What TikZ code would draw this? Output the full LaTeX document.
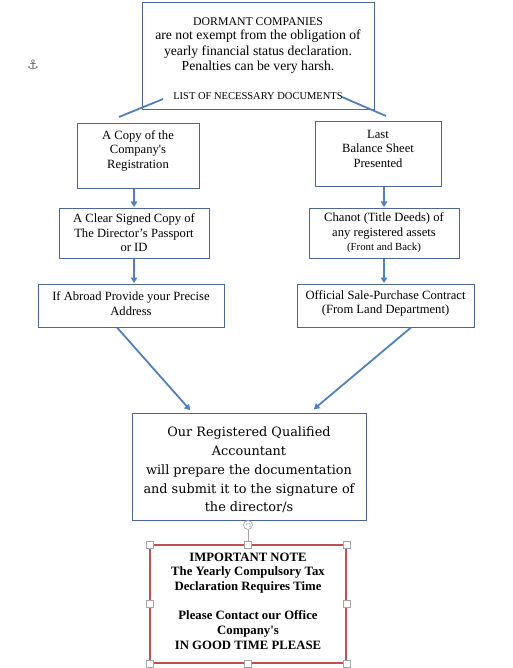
\documentclass[tikz,border=0pt]{standalone}
\usepackage{fontspec}
\setmainfont{Liberation Serif}
\newfontfamily\rawserif{Liberation Serif}
\newfontfamily\accfont{DejaVu Serif}
\newfontfamily\symfont{DejaVu Sans}
\usetikzlibrary{arrows.meta,calc}
\definecolor{boxblue}{HTML}{4A6894}
\definecolor{arrblue}{HTML}{4F81BD}
\definecolor{notered}{HTML}{C0504D}
\begin{document}
\begin{tikzpicture}[x=1pt,y=-1pt,
  box/.style={draw=boxblue,line width=1pt,inner sep=0pt},
  txt/.style={align=center,inner sep=0pt,font=\fontsize{12.6}{14.5}\selectfont},
  arr/.style={draw=arrblue,line width=1.8pt,-{Triangle[length=5.5pt,width=6.5pt]},shorten >=0.5pt},
  link/.style={draw=arrblue,line width=1.8pt},
  handle/.style={draw=gray!70,fill=white,line width=0.6pt,minimum size=7pt,inner sep=0pt,rectangle}
]
\useasboundingbox (0,0) rectangle (513,668);
\fill[white] (0,0) rectangle (513,668);
% anchor mark
\node[text=gray!80!black,font=\symfont\fontsize{13}{13}\selectfont] (anc) at (33,65) {⚓};
% top box
\node[box,minimum width=232pt,minimum height=107pt] (top) at (258,56.5) {};
\node[txt,font=\fontsize{11.8}{13}\selectfont] (t1) at (258,22) {DORMANT COMPANIES};
\node[txt,font=\fontsize{13.7}{15.5}\selectfont] (t2) at (258,52) {are not exempt from the obligation of\\yearly financial status declaration.\\Penalties can be very harsh.};
\node[txt,font=\fontsize{10.5}{12}\selectfont] (t3) at (258,96) {LIST OF NECESSARY DOCUMENTS};
\coordinate (tl) at (163,99);
\coordinate (tle) at (119,117);
\coordinate (tr) at (342,97);
\coordinate (tre) at (386,116);
\draw[link] (tl) -- (tle);
\draw[link] (tr) -- (tre);
% left column
\node[box,minimum width=122pt,minimum height=65pt] (L1) at (138,156.5) {};
\node[txt] (L1t) at (138,150.5) {A Copy of the\\{\rawserif Company's}\\Registration};
\node[box,minimum width=150pt,minimum height=50pt] (L2) at (134,233) {};
\node[txt] (L2t) at (134,233) {A Clear Signed Copy of\\The Director’s Passport\\or ID};
\node[box,minimum width=186pt,minimum height=43pt] (L3) at (131,305.5) {};
\node[txt] (L3t) at (131,303.5) {If Abroad Provide your Precise\\Address};
% right column
\node[box,minimum width=126pt,minimum height=65pt] (R1) at (378,154.5) {};
\node[txt] (R1t) at (378,148.5) {Last\\Balance Sheet\\Presented};
\node[box,minimum width=150pt,minimum height=50pt] (R2) at (384,233) {};
\node[txt] (R2t) at (384,233) {Chanot (Title Deeds) of\\any registered assets\\{\fontsize{10.8}{12}\selectfont(Front and Back)}};
\node[box,minimum width=177pt,minimum height=43pt] (R3) at (385.5,305.5) {};
\node[txt] (R3t) at (385.5,303.5) {Official Sale-Purchase Contract\\(From Land Department)};
% accountant box
\node[box,minimum width=234pt,minimum height=107pt] (A) at (249,466.5) {};
\node[txt,font=\accfont\fontsize{12.85}{18.75}\selectfont] (At) at (249,470) {Our Registered Qualified\\Accountant\\will prepare the documentation\\and submit it to the signature of\\the director/s};
% note box
\node[draw=notered,line width=1.3pt,minimum width=196pt,minimum height=118pt,inner sep=0pt] (N) at (248,604) {};
\node[txt,font=\bfseries\fontsize{12.75}{14.7}\selectfont] (Nt) at (248,601) {IMPORTANT NOTE\\The Yearly Compulsory Tax\\Declaration Requires Time\\[14.7pt]Please Contact our Office\\{\rawserif\bfseries Company's}\\IN GOOD TIME PLEASE};
% arrows
\draw[arr] (L1.south -| L2.north) -- (L2.north);
\draw[arr] (L2.south) -- (L2.south |- L3.north);
\draw[arr] (R1.south -| R2.north) -- (R2.north);
\draw[arr] (R2.south) -- (R2.south |- R3.north);
\coordinate (dl) at ($(L3.south)+(-14,0)$);
\coordinate (dle) at ($(A.north west)+(59,-2)$);
\coordinate (dr) at ($(R3.south)+(25.5,0)$);
\coordinate (dre) at ($(A.north west)+(182,-3)$);
\draw[arr] (dl) -- (dle);
\draw[arr] (dr) -- (dre);
% selection handles
\node[draw=gray!70,fill=white,circle,line width=0.6pt,minimum size=9pt,inner sep=0pt] (rot) at (248,525) {};
\draw[gray!70,line width=0.5pt] (rot.south) -- (N.north);
\draw[gray!70,line width=0.5pt,-{Stealth[length=1.5pt]}] ($(rot)+(-1.8,0.8)$) arc[start angle=200,end angle=-60,radius=2.1pt];
\foreach \a in {north west,north,north east,west,east,south west,south,south east}
  \node[handle] at (N.\a) {};
\end{tikzpicture}
\end{document}
